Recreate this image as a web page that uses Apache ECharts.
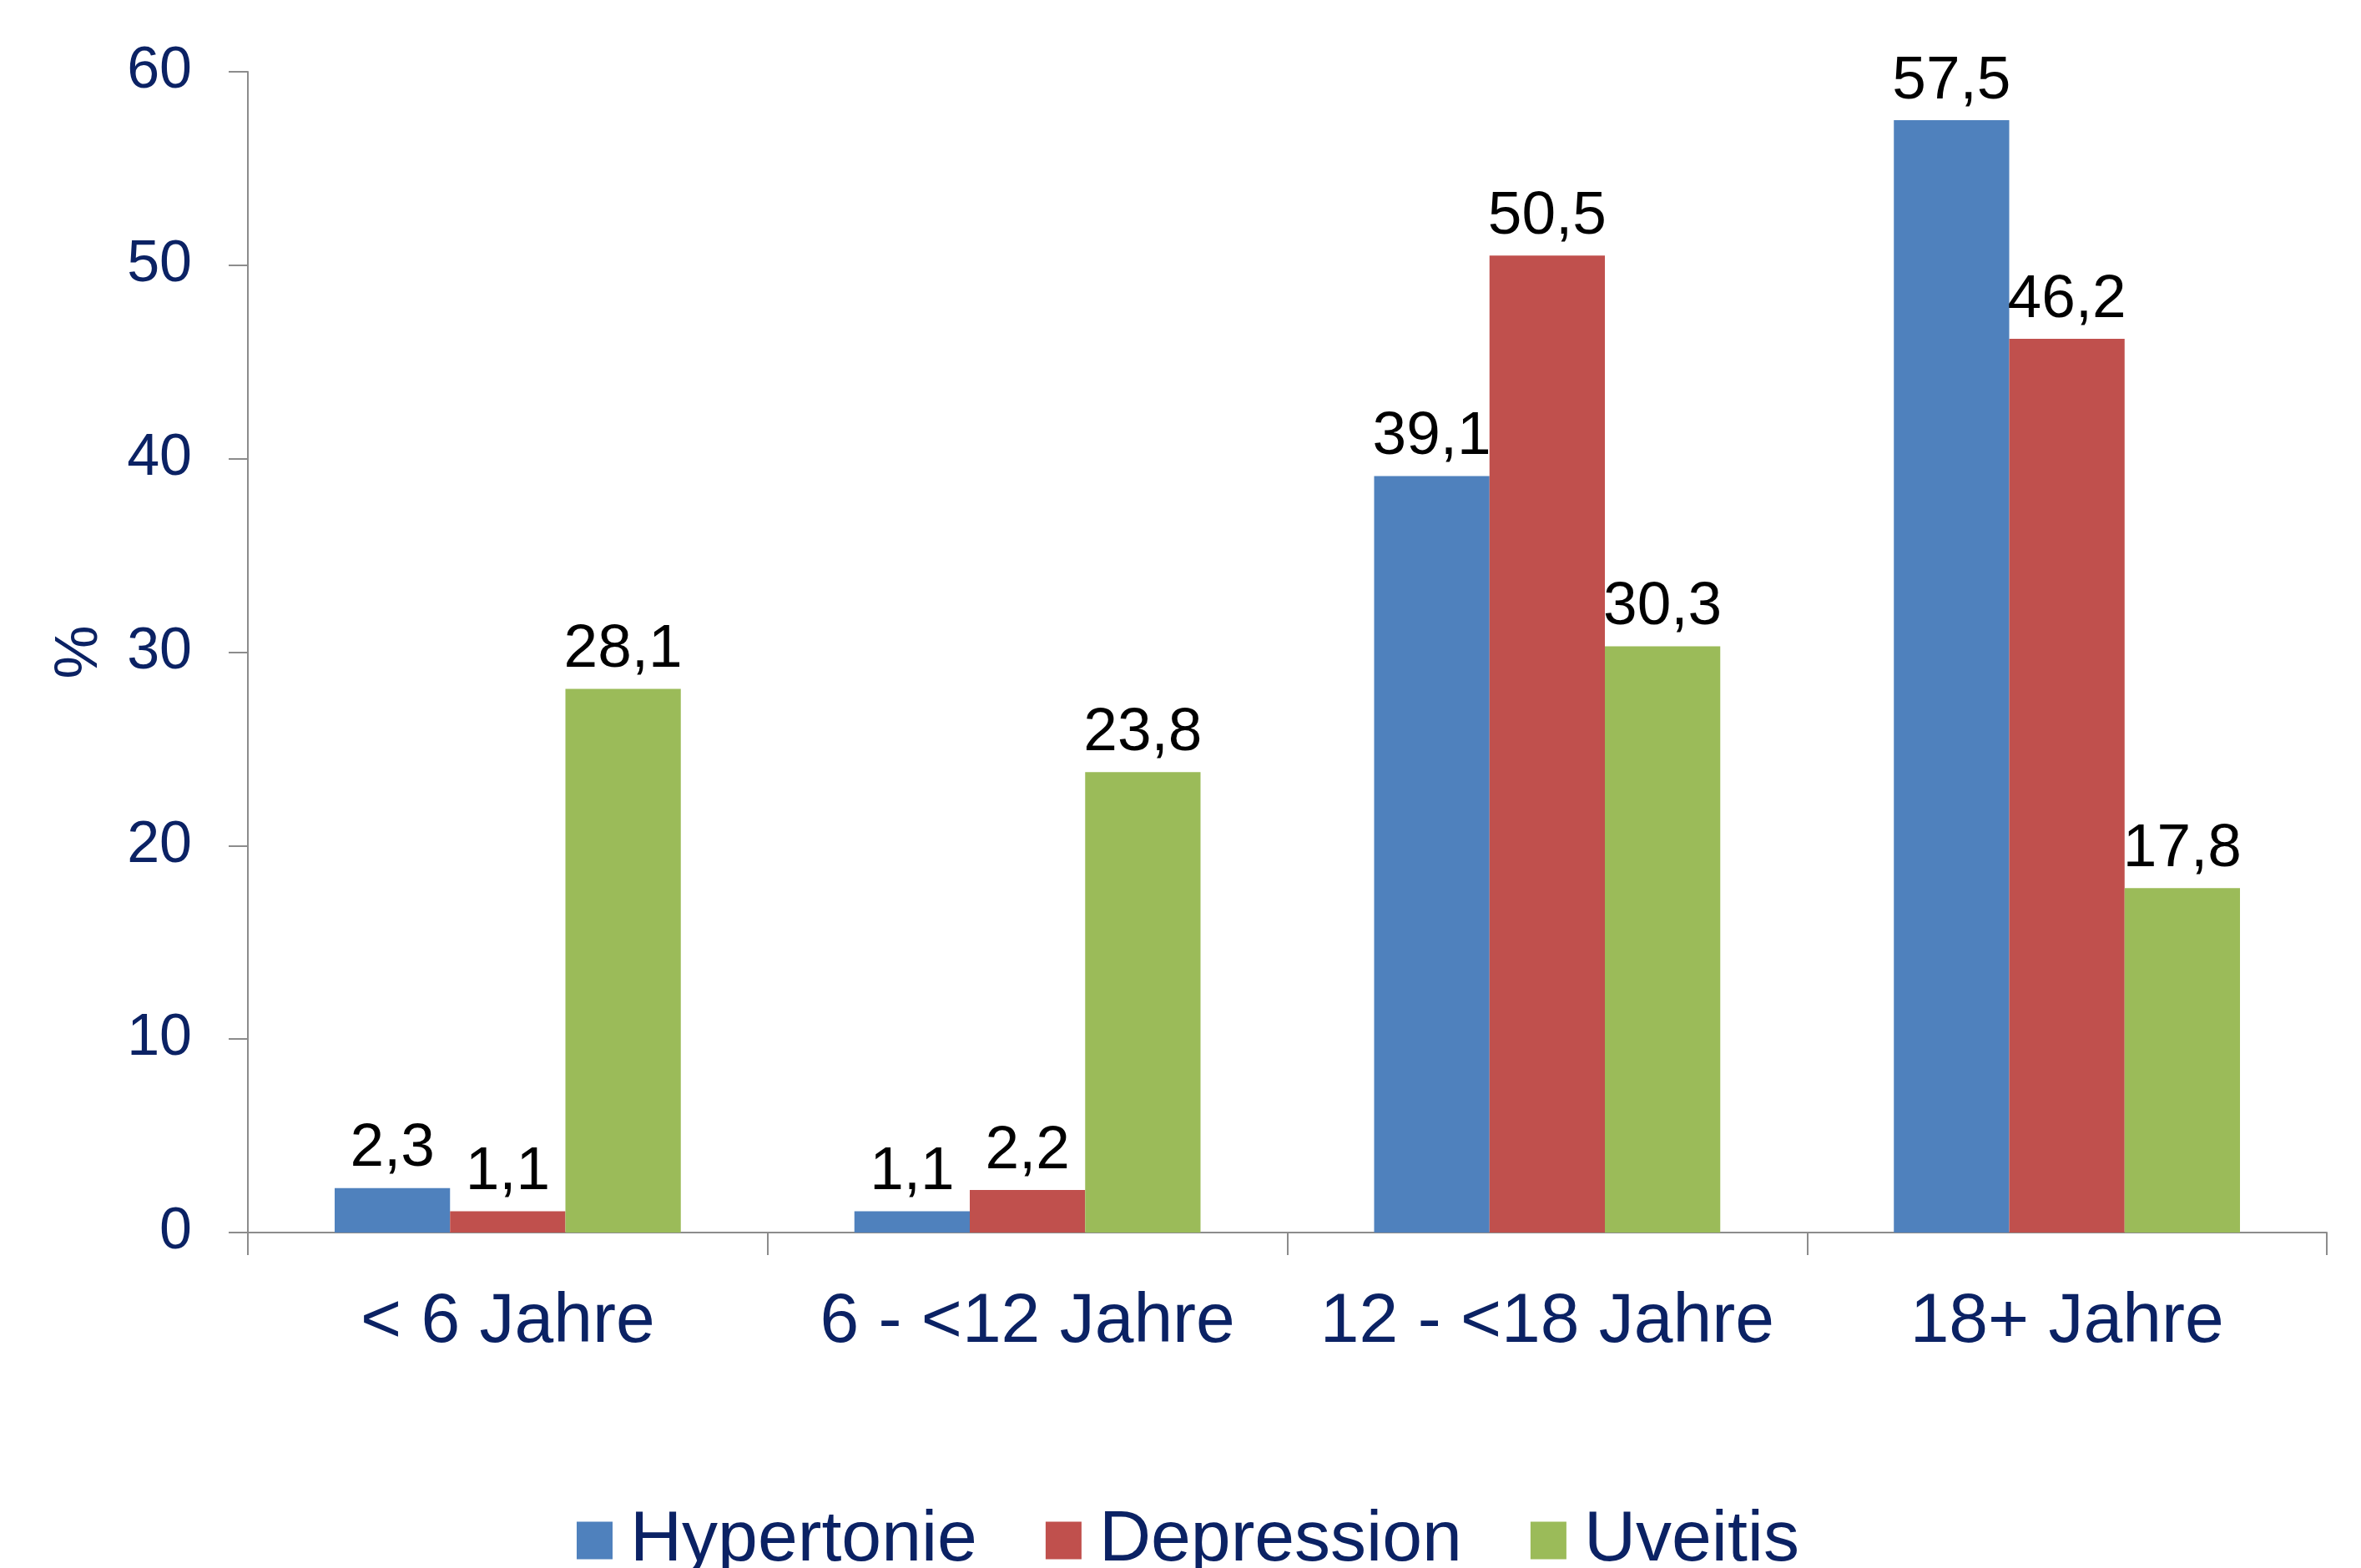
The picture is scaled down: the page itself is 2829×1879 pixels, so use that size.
<!DOCTYPE html>
<html>
<head>
<meta charset="utf-8">
<style>
  html, body { margin: 0; padding: 0; background: #ffffff; }
  #chart { width: 2829px; height: 1879px; }
</style>
<script src="https://cdn.jsdelivr.net/npm/echarts@6/dist/echarts.min.js"></script>
</head>
<body>
<div id="chart"></div>
<script>
// Age groups on the category axis
const categories = ['< 6 Jahre', '6 - <12 Jahre', '12 - <18 Jahre', '18+ Jahre'];

// Share of patients (%) per comorbidity
const hypertonie = [2.3, 1.1, 39.1, 57.5];
const depression = [1.1, 2.2, 50.5, 46.2];
const uveitis    = [28.1, 23.8, 30.3, 17.8];

// Value axis ticks
const yTicks = [0, 10, 20, 30, 40, 50, 60];

const navy = '#0B2264';
const axisGray = '#8C8C8C';
const font = '"Liberation Sans", Arial, sans-serif';

const fmt = p => String(p.value).replace('.', ',');

function barSeries(name, data, color) {
  return {
    name: name,
    type: 'bar',
    data: data,
    barGap: '0%',
    barCategoryGap: '33.4%',
    itemStyle: { color: color },
    label: {
      show: true,
      position: 'top',
      distance: 10,
      color: '#000000',
      fontFamily: font,
      fontSize: 73,
      formatter: fmt
    }
  };
}

const chart = echarts.init(document.getElementById('chart'), null, { renderer: 'canvas' });

chart.setOption({
  animation: false,
  backgroundColor: '#ffffff',
  grid: { left: 297, right: 41, top: 86, bottom: 402, containLabel: false },
  legend: {
    data: ['Hypertonie', 'Depression', 'Uveitis'],
    left: 686,
    top: 1798,
    icon: 'rect',
    itemWidth: 43,
    itemHeight: 45,
    itemGap: 82,
    textStyle: { color: navy, fontFamily: font, fontSize: 86, padding: [0, 0, 0, 16] }
  },
  xAxis: {
    type: 'category',
    data: categories,
    axisLine: { lineStyle: { color: axisGray, width: 2 } },
    axisTick: { show: true, interval: 0, length: 27, lineStyle: { color: axisGray, width: 2 } },
    axisLabel: { interval: 0, color: navy, fontFamily: font, fontSize: 84, margin: 66 }
  },
  yAxis: {
    type: 'value',
    min: yTicks[0],
    max: yTicks[yTicks.length - 1],
    interval: yTicks[1] - yTicks[0],
    name: '%',
    nameLocation: 'middle',
    nameRotate: 90,
    nameGap: 165,
    nameTextStyle: { color: navy, fontFamily: font, fontSize: 72 },
    axisLine: { show: true, lineStyle: { color: axisGray, width: 2 } },
    axisTick: { show: true, length: 23, lineStyle: { color: axisGray, width: 2 } },
    splitLine: { show: false },
    axisLabel: { color: navy, fontFamily: font, fontSize: 70, margin: 67 }
  },
  series: [
    barSeries('Hypertonie', hypertonie, '#4F81BD'),
    barSeries('Depression', depression, '#C0504D'),
    barSeries('Uveitis', uveitis, '#9BBB59')
  ]
});
</script>
</body>
</html>
